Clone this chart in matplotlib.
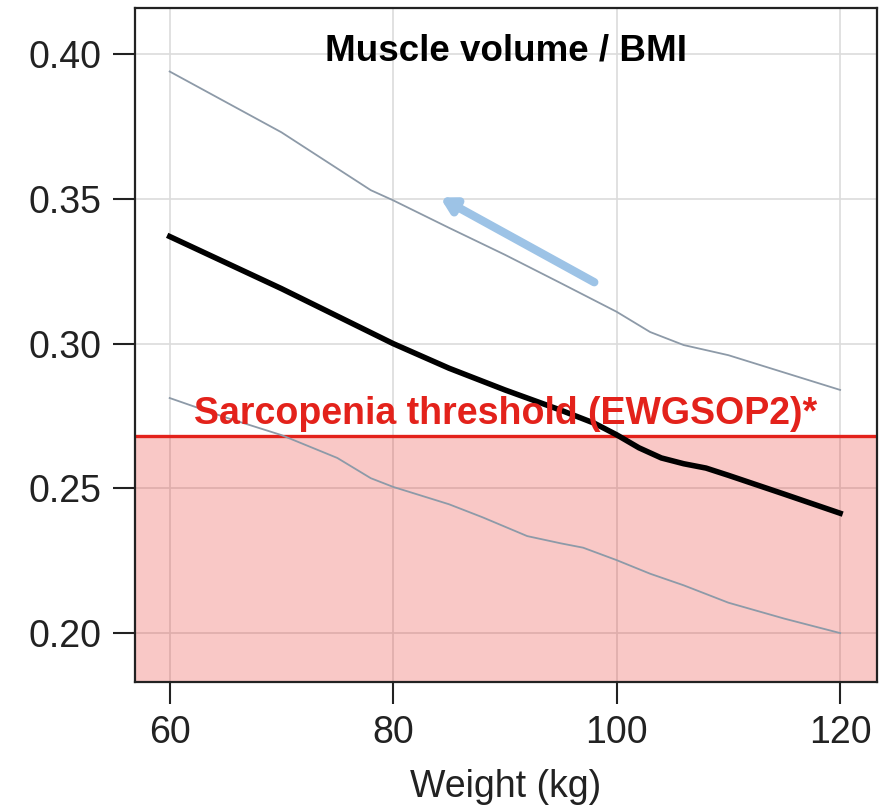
import matplotlib
matplotlib.use("Agg")
import matplotlib.pyplot as plt

plt.rcParams['font.family'] = ['Liberation Sans', 'DejaVu Sans']

# Data
weight_mid = [60, 65, 70, 75, 80, 85, 90, 95, 98, 100, 102, 104, 106, 108, 110, 115, 120]
ratio_mid = [0.337, 0.328, 0.319, 0.3095, 0.300, 0.2915, 0.284, 0.277, 0.2725, 0.2685,
             0.264, 0.2605, 0.2585, 0.257, 0.2545, 0.248, 0.2414]

weight_upper = [60, 65, 70, 75, 78, 80, 85, 90, 95, 100, 103, 106, 110, 115, 120]
ratio_upper = [0.394, 0.3835, 0.373, 0.3605, 0.353, 0.3495, 0.340, 0.3307, 0.3209, 0.311,
               0.304, 0.2995, 0.296, 0.290, 0.284]

weight_lower = [60, 65, 70, 75, 78, 80, 85, 88, 92, 95, 97, 100, 103, 106, 110, 115, 120]
ratio_lower = [0.2812, 0.2745, 0.2684, 0.2605, 0.2535, 0.2505, 0.2445, 0.240, 0.2335, 0.231,
               0.2295, 0.2252, 0.2205, 0.2165, 0.2105, 0.205, 0.200]

threshold = 0.268
x_ticks = [60, 80, 100, 120]
y_ticks = [0.20, 0.25, 0.30, 0.35, 0.40]
y_tick_labels = ["0.20", "0.25", "0.30", "0.35", "0.40"]
arrow_start = (98.0, 0.3212)
arrow_end = (84.2, 0.3505)

fig = plt.figure(figsize=(8.86, 8.10), dpi=100)
ax = fig.add_axes([0.1524, 0.1584, 0.8374, 0.8323])

xmin, xmax = 56.9, 123.3
ymin, ymax = 0.1832, 0.4161
ax.set_xlim(xmin, xmax)
ax.set_ylim(ymin, ymax)

ax.set_axisbelow(True)
ax.grid(True, color='#dcdcdc', linewidth=1.2)

ax.axhspan(ymin, threshold, color='#e8251d', alpha=0.25, linewidth=0, zorder=1)
ax.axhline(threshold, color='#e3221b', linewidth=2.4, zorder=3)

ax.plot(weight_upper, ratio_upper, color='#8d9aa8', linewidth=1.3, zorder=4,
        solid_joinstyle='round')
ax.plot(weight_lower, ratio_lower, color='#8d9aa8', linewidth=1.3, zorder=4,
        solid_joinstyle='round')
ax.plot(weight_mid, ratio_mid, color='black', linewidth=4.0, zorder=5,
        solid_joinstyle='round')

ax.annotate('', xy=arrow_end, xytext=arrow_start,
            arrowprops=dict(arrowstyle='-|>,head_length=0.8,head_width=0.45',
                            color='#9dc3e6', linewidth=6, shrinkA=0, shrinkB=0),
            zorder=6)

ax.text(0.5, 0.4012, 'Muscle volume / BMI', transform=ax.get_yaxis_transform(),
        ha='center', va='center', fontsize=26.5, fontweight='bold', color='black')
ax.text(0.5, 0.2757, 'Sarcopenia threshold (EWGSOP2)*', transform=ax.get_yaxis_transform(),
        ha='center', va='center', fontsize=27, fontweight='bold', color='#e3221b', zorder=7)

ax.set_xticks(x_ticks)
ax.set_xticklabels([str(v) for v in x_ticks])
ax.set_yticks(y_ticks)
ax.set_yticklabels(y_tick_labels)
ax.tick_params(axis='both', direction='out', length=16, width=1.5, labelsize=27,
               color='#222222', labelcolor='#222222')
ax.tick_params(axis='y', pad=8)
ax.tick_params(axis='x', pad=8)
ax.set_xlabel('Weight (kg)', fontsize=27, color='#222222', labelpad=13)

for s in ax.spines.values():
    s.set_linewidth(1.6)
    s.set_color('#222222')
    s.set_zorder(8)

fig.savefig('out.png', dpi=100)
